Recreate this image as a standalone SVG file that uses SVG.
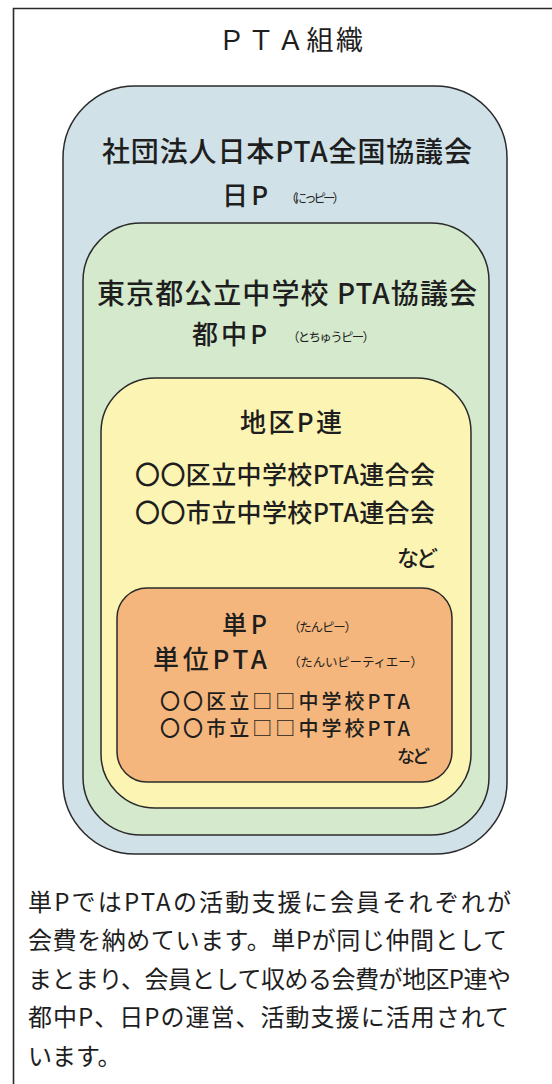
<svg xmlns="http://www.w3.org/2000/svg" width="552" height="1084" viewBox="0 0 552 1084">
<style>
  .box { stroke: #2a2a2a; stroke-width: 1.5; }
  .t { font-family: "Noto Sans CJK JP", "Liberation Sans", sans-serif; fill: #1e1e1e; }
  .h { font-weight: 500; }
  .s { font-size: 12.5px; }
  .body { font-size: 24px; font-weight: 400; }
</style>
<rect x="0" y="0" width="552" height="1084" fill="#ffffff"/>
<g id="frame">
  <path d="M13.5 1084 V8.5 H552" fill="none" stroke="#2a2a2a" stroke-width="1.6"/>
  <text class="t" x="218" y="50" font-size="27" textLength="145" lengthAdjust="spacing">ＰＴＡ組織</text>
</g>
<g id="node-nichi-p">
  <rect class="box" x="63" y="86" width="444" height="768" rx="72" ry="72" fill="#d0e1e7"/>
  <text class="t h" x="102" y="162" font-size="28" textLength="370" lengthAdjust="spacing">社団法人日本PTA全国協議会</text>
  <text class="t h" x="222" y="205" font-size="26" textLength="46" lengthAdjust="spacing">日P</text>
  <text class="t s" x="285" y="203" textLength="60" lengthAdjust="spacing">（にっピー）</text>
</g>
<g id="node-tochu-p">
  <rect class="box" x="83" y="223" width="406" height="612" rx="58" ry="58" fill="#d5e9cd"/>
  <text class="t h" x="97" y="304" font-size="28" textLength="380" lengthAdjust="spacing">東京都公立中学校 PTA協議会</text>
  <text class="t h" x="192" y="344" font-size="26" textLength="75" lengthAdjust="spacing">都中P</text>
  <text class="t s" x="287" y="342" textLength="88" lengthAdjust="spacing">（とちゅうピー）</text>
</g>
<g id="node-chiku-p">
  <rect class="box" x="101" y="378" width="370" height="430" rx="54" ry="54" fill="#fcf4b3"/>
  <text class="t h" x="240" y="432" font-size="26" textLength="102" lengthAdjust="spacing">地区P連</text>
  <text class="t h" x="135" y="484" font-size="25" textLength="300" lengthAdjust="spacing">〇〇区立中学校PTA連合会</text>
  <text class="t h" x="135" y="522" font-size="25" textLength="300" lengthAdjust="spacing">〇〇市立中学校PTA連合会</text>
  <text class="t h" x="397" y="566" font-size="22" textLength="41" lengthAdjust="spacing">など</text>
</g>
<g id="node-tan-p">
  <rect class="box" x="117" y="588" width="335" height="194" rx="30" ry="30" fill="#f4b67c"/>
  <text class="t h" x="222" y="634" font-size="25" textLength="45" lengthAdjust="spacing">単P</text>
  <text class="t s" x="288" y="632" textLength="69" lengthAdjust="spacing">（たんピー）</text>
  <text class="t h" x="153" y="669" font-size="26" textLength="114" lengthAdjust="spacing">単位PTA</text>
  <text class="t s" x="288" y="667" textLength="135" lengthAdjust="spacing">（たんいピーティエー）</text>
  <text class="t h" x="160" y="709" font-size="20" textLength="250" lengthAdjust="spacing">〇〇区立□□中学校PTA</text>
  <text class="t h" x="160" y="736" font-size="20" textLength="250" lengthAdjust="spacing">〇〇市立□□中学校PTA</text>
  <text class="t h" x="397" y="763" font-size="18" textLength="33" lengthAdjust="spacing">など</text>
</g>
<g id="connectors"/>
<g id="note">
  <text class="t body" x="28" y="911" textLength="483" lengthAdjust="spacing">単PではPTAの活動支援に会員それぞれが</text>
  <text class="t body" x="28" y="949" textLength="479" lengthAdjust="spacing">会費を納めています。単Pが同じ仲間として</text>
  <text class="t body" x="28" y="988" textLength="483" lengthAdjust="spacing">まとまり、会員として収める会費が地区P連や</text>
  <text class="t body" x="28" y="1026" textLength="481" lengthAdjust="spacing">都中P、日Pの運営、活動支援に活用されて</text>
  <text class="t body" x="28" y="1065">います。</text>
</g>
</svg>
